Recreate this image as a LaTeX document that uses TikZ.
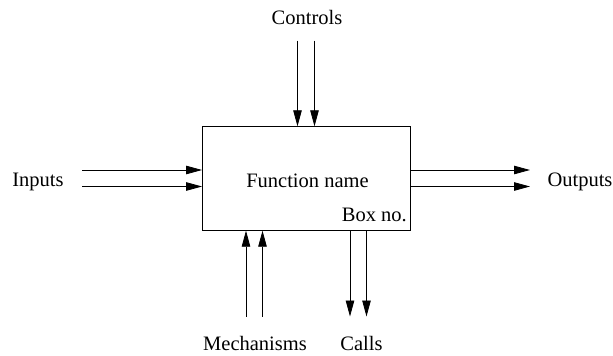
\documentclass[tikz,border=0pt]{standalone}
\usepackage{fontspec}
\setmainfont{Liberation Serif}
\usetikzlibrary{arrows.meta}
\begin{document}
\begin{tikzpicture}[x=1pt,y=-1pt,
  lbl/.style={font=\fontsize{20.5}{24}\selectfont, inner sep=0pt, anchor=base},
  flow/.style={line width=0.8pt, -{Triangle[length=16pt,width=8.5pt]}},
  fbox/.style={draw, line width=0.9pt, minimum width=207.5pt, minimum height=103.5pt, inner sep=0pt}]
\useasboundingbox (0,0) rectangle (613,356);
% activity box
\node[fbox] (box) at (306.25,178.5) {};
\node[lbl] (fname) at (307.5,187.5) {Function name};
\node[lbl, anchor=base east] (boxno) at (407,221.7) {Box no.};
% labels
\node[lbl] (ctl) at (307,24) {Controls};
\node[lbl] (inp) at (38,186) {Inputs};
\node[lbl] (outp) at (580,186) {Outputs};
\node[lbl] (mech) at (255,350) {Mechanisms};
\node[lbl] (calls) at (361.5,350) {Calls};
% free ends of the connectors
\coordinate (c1) at (297.5,40.5);
\coordinate (c2) at (314.5,40.5);
\coordinate (i1) at (82,170);
\coordinate (i2) at (82,186.5);
\coordinate (o1) at (530,170);
\coordinate (o2) at (530,186.5);
\coordinate (m1) at (246,316.5);
\coordinate (m2) at (262.5,316.5);
\coordinate (k1) at (350,316.5);
\coordinate (k2) at (366.5,316.5);
% controls
\draw[flow] (c1) -- (c1 |- box.north);
\draw[flow] (c2) -- (c2 |- box.north);
% inputs
\draw[flow] (i1) -- (i1 -| box.west);
\draw[flow] (i2) -- (i2 -| box.west);
% outputs
\draw[flow] (o1 -| box.east) -- (o1);
\draw[flow] (o2 -| box.east) -- (o2);
% mechanisms
\draw[flow] (m1) -- (m1 |- box.south);
\draw[flow] (m2) -- (m2 |- box.south);
% calls
\draw[flow] (k1 |- box.south) -- (k1);
\draw[flow] (k2 |- box.south) -- (k2);
\end{tikzpicture}
\end{document}
